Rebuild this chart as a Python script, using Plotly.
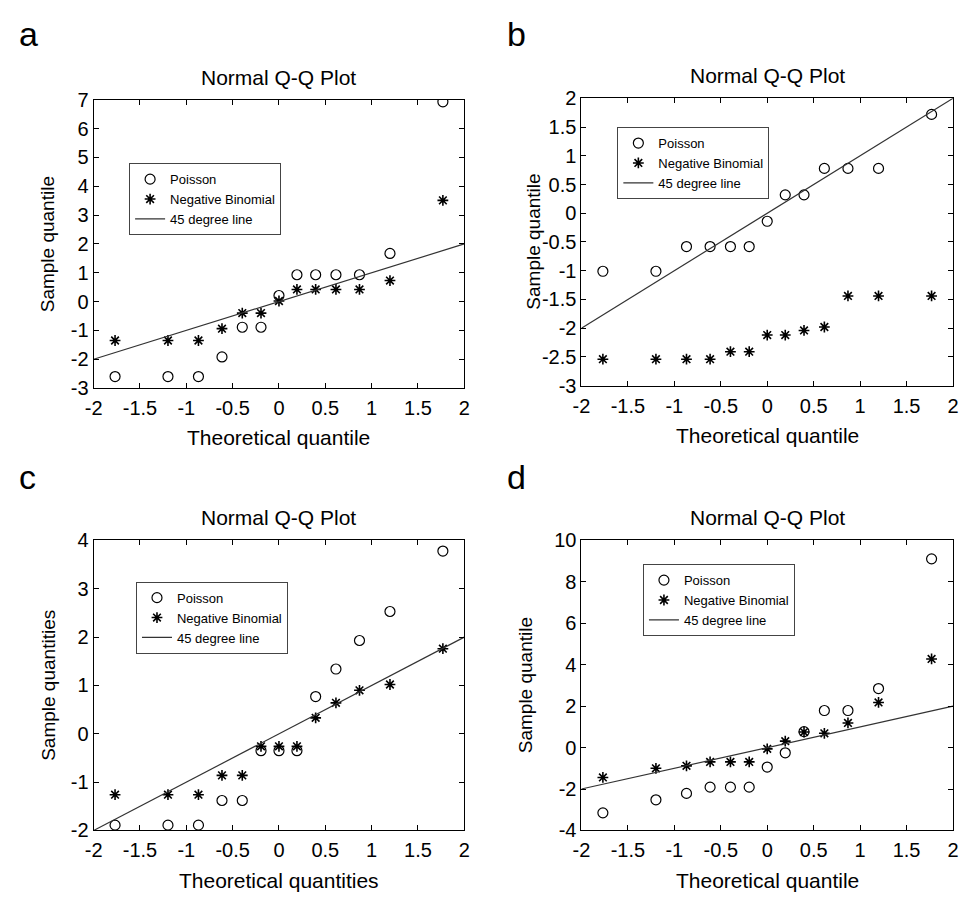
import plotly.graph_objects as go

# ---------------- data ----------------
theoretical_q = [-1.769, -1.198, -0.869, -0.615, -0.396, -0.194, 0.0,
                 0.194, 0.396, 0.615, 0.869, 1.198, 1.769]

a_poisson = [-2.6, -2.6, -2.6, -1.92, -0.89, -0.89, 0.21, 0.93, 0.93, 0.93, 0.93, 1.67, 6.93]
a_negbin = [-1.35, -1.35, -1.35, -0.94, -0.40, -0.40, 0.02, 0.42, 0.42, 0.42, 0.42, 0.73, 3.51]

b_poisson = [-1.01, -1.01, -0.58, -0.58, -0.58, -0.58, -0.14, 0.32, 0.32, 0.78, 0.78, 0.78, 1.72]
b_negbin = [-2.54, -2.54, -2.54, -2.54, -2.41, -2.41, -2.12, -2.12, -2.04, -1.98, -1.44, -1.44, -1.44]

c_poisson = [-1.89, -1.89, -1.89, -1.38, -1.38, -0.35, -0.35, -0.35, 0.77, 1.34, 1.93, 2.53, 3.78]
c_negbin = [-1.26, -1.26, -1.26, -0.86, -0.86, -0.26, -0.26, -0.26, 0.33, 0.64, 0.90, 1.02, 1.76]

d_poisson = [-3.15, -2.52, -2.21, -1.91, -1.91, -1.91, -0.94, -0.25, 0.77, 1.79, 1.79, 2.85, 9.11]
d_negbin = [-1.44, -1.00, -0.88, -0.69, -0.69, -0.69, -0.06, 0.31, 0.75, 0.69, 1.19, 2.18, 4.28]

line45_x = [-2, 2]
line45_y = [-2, 2]

x_ticks = [-2, -1.5, -1, -0.5, 0, 0.5, 1, 1.5, 2]
x_ticklabels = ["-2", "-1.5", "-1", "-0.5", "0", "0.5", "1", "1.5", "2"]
a_yticks = [-3, -2, -1, 0, 1, 2, 3, 4, 5, 6, 7]
b_yticks = [-3, -2.5, -2, -1.5, -1, -0.5, 0, 0.5, 1, 1.5, 2]
b_yticklabels = ["-3", "-2.5", "-2", "-1.5", "-1", "-0.5", "0", "0.5", "1", "1.5", "2"]
c_yticks = [-2, -1, 0, 1, 2, 3, 4]
d_yticks = [-4, -2, 0, 2, 4, 6, 8, 10]

panel_letters = ["a", "b", "c", "d"]
panel_title = "Normal Q-Q Plot"
x_titles = ["Theoretical quantile", "Theoretical quantile", "Theoretical quantities", "Theoretical quantile"]
y_titles = ["Sample quantile", "Sample quantile", "Sample quantities", "Sample quantile"]
series_names = ["Poisson", "Negative Binomial", "45 degree line"]

# ---------------- layout geometry (pixels) ----------------
W, H = 961, 900
FONT = "Liberation Sans, Arial, sans-serif"

panels = [
    dict(x0=86, x1=462.5, y0=91, y1=386.5, pois=a_poisson, nb=a_negbin,
         yr=[-3, 7], yt=a_yticks, ytl=[str(v) for v in a_yticks], leg=(122, 156)),
    dict(x0=581.5, x1=959, y0=89.5, y1=384, pois=b_poisson, nb=b_negbin,
         yr=[-3, 2], yt=b_yticks, ytl=b_yticklabels, leg=(618, 119)),
    dict(x0=86, x1=462.5, y0=542.7, y1=840, pois=c_poisson, nb=c_negbin,
         yr=[-2, 4], yt=c_yticks, ytl=[str(v) for v in c_yticks], leg=(129, 585)),
    dict(x0=581.5, x1=959, y0=542.7, y1=840, pois=d_poisson, nb=d_negbin,
         yr=[-4, 10], yt=d_yticks, ytl=[str(v) for v in d_yticks], leg=(644, 567)),
]

fig = go.Figure()
layout = dict(width=W, height=H, margin=dict(l=0, r=0, t=0, b=0),
              paper_bgcolor="white", plot_bgcolor="white", hovermode=False,
              font=dict(family=FONT, color="black"), showlegend=True)
annotations = []

for i, p in enumerate(panels):
    n = "" if i == 0 else str(i + 1)
    xa, ya = "x" + n, "y" + n
    leg = "legend" + n
    fig.add_trace(go.Scatter(x=theoretical_q, y=p["pois"], mode="markers", name=series_names[0],
                             xaxis=xa, yaxis=ya, legend=leg,
                             marker=dict(symbol="circle-open", size=10, color="black",
                                         line=dict(width=1.2, color="black"))))
    fig.add_trace(go.Scatter(x=theoretical_q, y=p["nb"], mode="markers", name=series_names[1],
                             xaxis=xa, yaxis=ya, legend=leg,
                             marker=dict(symbol="asterisk-open", size=9, color="black",
                                         line=dict(width=1.6, color="black"))))
    fig.add_trace(go.Scatter(x=line45_x, y=line45_y, mode="lines", name=series_names[2],
                             xaxis=xa, yaxis=ya, legend=leg,
                             line=dict(color="#333333", width=1.2)))

    axcommon = dict(showline=True, linecolor="black", linewidth=1, mirror="ticks",
                    ticks="inside", ticklen=5, tickwidth=1, tickcolor="black",
                    showgrid=False, zeroline=False,
                    tickfont=dict(size=20, family=FONT, color="black"), fixedrange=True)
    layout["xaxis" + n] = dict(domain=[p["x0"] / W, p["x1"] / W], range=[-2, 2],
                               tickvals=x_ticks, ticktext=x_ticklabels,
                               anchor=ya, ticklabelstandoff=2, **axcommon)
    layout["yaxis" + n] = dict(domain=[1 - p["y1"] / H, 1 - p["y0"] / H], range=p["yr"],
                               tickvals=p["yt"], ticktext=p["ytl"],
                               anchor=xa, ticklabelstandoff=0, **axcommon)
    layout[leg] = dict(x=p["leg"][0] / W, y=1 - p["leg"][1] / H, xanchor="left", yanchor="top",
                       xref="paper", yref="paper",
                       bordercolor="#444444", borderwidth=1, bgcolor="white",
                       font=dict(size=13, family=FONT, color="black"),
                       tracegroupgap=0, itemwidth=30)

    cx = (p["x0"] + p["x1"]) / 2
    cy = (p["y0"] + p["y1"]) / 2
    # panel letter
    annotations.append(dict(text=panel_letters[i], x=(8 if i % 2 == 0 else 504) / W,
                            y=1 - (24 if i < 2 else 478) / H, xref="paper", yref="paper",
                            xanchor="left", yanchor="middle", showarrow=False,
                            font=dict(size=34, family=FONT, color="black")))
    # panel title
    annotations.append(dict(text=panel_title, x=cx / W, y=1 - (p["y0"] - 23) / H,
                            xref="paper", yref="paper", xanchor="center", yanchor="middle",
                            showarrow=False, font=dict(size=21, family=FONT, color="black")))
    # x title
    annotations.append(dict(text=x_titles[i], x=cx / W, y=1 - (p["y1"] + 51) / H,
                            xref="paper", yref="paper", xanchor="center", yanchor="middle",
                            showarrow=False, font=dict(size=21, family=FONT, color="black")))
    # y title
    ytx = [40, 533, 40, 525][i]
    annotations.append(dict(text=y_titles[i], x=ytx / W, y=1 - cy / H,
                            xref="paper", yref="paper", xanchor="center", yanchor="middle",
                            textangle=-90, showarrow=False,
                            font=dict(size=19, family=FONT, color="black")))

layout["annotations"] = annotations
fig.update_layout(**layout)
fig.write_html("out.html", config={"displayModeBar": False, "staticPlot": False},
               post_script="document.body.style.margin='0';document.body.style.overflow='hidden';")
